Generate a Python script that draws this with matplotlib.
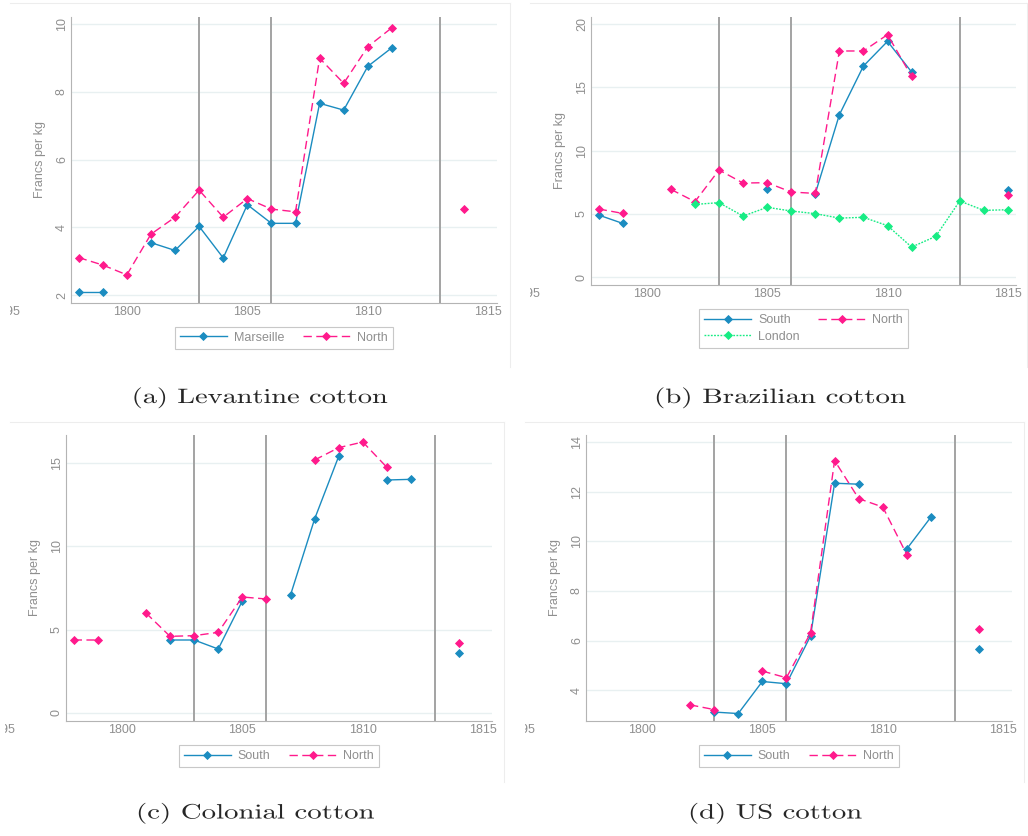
import numpy as np
import matplotlib
matplotlib.use("Agg")
import matplotlib.pyplot as plt
from matplotlib.transforms import Affine2D, Bbox, TransformedBbox, blended_transform_factory
from matplotlib.patheffects import AbstractPathEffect
from matplotlib.lines import Line2D

nan = np.nan

# ---------------- data ----------------
years = list(range(1798, 1816))
war_years = [1803, 1806, 1813]
xtick_years = [1800, 1805, 1810, 1815]

lev_marseille = [2.08, 2.08, nan, 3.55, 3.32, 4.03, 3.10, 4.67, 4.12, 4.12, 7.66, 7.46, 8.75, 9.30, nan, nan, nan, nan]
lev_north = [3.11, 2.89, 2.60, 3.80, 4.30, 5.10, 4.30, 4.85, 4.54, 4.46, 8.99, 8.25, 9.33, 9.89, nan, nan, 4.54, nan]

bra_south = [4.90, 4.24, nan, nan, nan, nan, nan, 6.93, nan, 6.59, 12.83, 16.68, 18.63, 16.21, nan, nan, nan, 6.88]
bra_north = [5.38, 5.03, nan, 6.93, 5.96, 8.46, 7.43, 7.46, 6.72, 6.61, 17.87, 17.87, 19.16, 15.86, nan, nan, nan, 6.46]
bra_london = [nan, nan, nan, nan, 5.74, 5.88, 4.82, 5.51, 5.22, 5.01, 4.66, 4.72, 4.06, 2.37, 3.21, 6.01, 5.27, 5.32]

col_south = [nan, nan, nan, nan, 4.38, 4.38, 3.84, 6.72, nan, 7.08, 11.64, 15.40, nan, 13.98, 14.02, nan, 3.60, nan]
col_north = [4.38, 4.38, nan, 6.00, 4.60, 4.64, 4.84, 6.96, 6.84, nan, 15.18, 15.92, 16.26, 14.74, nan, nan, 4.20, nan]

us_south = [nan, nan, nan, nan, nan, 3.13, 3.07, 4.36, 4.27, 6.19, 12.34, 12.30, nan, 9.70, 10.98, nan, 5.66, nan]
us_north = [nan, nan, nan, nan, 3.42, 3.23, nan, 4.78, 4.51, 6.31, 13.25, 11.72, 11.38, 9.46, nan, nan, 6.47, nan]

lev_yticks = [2, 4, 6, 8, 10]
bra_yticks = [0, 5, 10, 15, 20]
col_yticks = [0, 5, 10, 15]
us_yticks = [4, 6, 8, 10, 12, 14]

captions = ["(a) Levantine cotton", "(b) Brazilian cotton", "(c) Colonial cotton", "(d) US cotton"]

# ---------------- style ----------------
W, H = 1028, 836
BLUE = "#1b8cc0"
PINK = "#ff1a8c"
GREEN = "#17ec84"
GRAY_TXT = "#8f8f8f"
SANS = "Liberation Sans"

fig = plt.figure(figsize=(W / 100, H / 100), dpi=100)
fig.patch.set_facecolor("white")


def px_rect(l, t, r, b):
    return [l / W, 1 - b / H, (r - l) / W, (b - t) / H]


class HStretch(AbstractPathEffect):
    def __init__(self, sx):
        super().__init__()
        self.sx = sx

    def draw_path(self, renderer, gc, tpath, affine, rgbFace=None):
        renderer.draw_path(gc, tpath, Affine2D().scale(self.sx, 1.0) + affine, rgbFace)


def series(ax, vals, color, style, label):
    kw = dict(color=color, lw=1.0, marker="D", ms=4.0, mew=0.6, mec=color, mfc=color, label=label)
    if style == "solid":
        ln, = ax.plot(years, vals, ls="-", **kw)
    elif style == "dash":
        ln, = ax.plot(years, vals, ls=(0, (6.0, 3.2)), **kw)
    else:
        ln, = ax.plot(years, vals, ls=(0, (1.3, 1.0)), **kw)
    return ln


def panel(rect, ylim, yticks, data, clip_left, legend_top_px, ncol_order):
    l, t, r, b = rect
    ax = fig.add_axes(px_rect(l, t, r, b))
    ax.set_xlim(1797.67, 1815.35)
    ax.set_ylim(*ylim)
    for s in ["top", "right"]:
        ax.spines[s].set_visible(False)
    for s in ["left", "bottom"]:
        ax.spines[s].set_color("#b4b4b4")
        ax.spines[s].set_linewidth(0.8)
    ax.set_xticks(xtick_years)
    ax.set_xticklabels([str(v) for v in xtick_years])
    ax.set_yticks(yticks)
    ax.set_yticklabels([str(v) for v in yticks])
    ax.tick_params(axis="both", length=0, colors=GRAY_TXT, labelsize=9)
    ax.tick_params(axis="x", pad=2.3)
    ax.tick_params(axis="y", pad=2.0, labelrotation=90)
    for lab in ax.get_yticklabels():
        lab.set_va("center")
        lab.set_ha("right")
    for lab in ax.get_xticklabels() + ax.get_yticklabels():
        lab.set_fontfamily(SANS)
    ax.yaxis.grid(True, color="#e8f0f1", lw=1.0)
    ax.set_axisbelow(True)
    for wy in war_years:
        ax.axvline(wy, color="#a3a3a3", lw=1.4, zorder=1.5)
    handles = []
    for vals, color, style, label in data:
        handles.append(series(ax, vals, color, style, label))
    ax.set_ylabel("Francs per kg", fontsize=9, color=GRAY_TXT, fontfamily=SANS)
    ax.yaxis.set_label_coords(-25.0 / (r - l), 0.5)
    # 1795 label, cut off by the edge of the sub-image as in the source
    an = ax.annotate("1795", xy=(1795, 0), xycoords=blended_transform_factory(ax.transData, ax.transAxes),
                     xytext=(0, -2.3), textcoords="offset points", ha="center", va="top",
                     fontsize=9, color=GRAY_TXT, fontfamily=SANS, annotation_clip=False)
    an.set_clip_box(TransformedBbox(Bbox.from_extents(clip_left / W, 0, 1, 1), fig.transFigure))
    an.set_clip_on(True)
    hs = [handles[i] for i in ncol_order]
    leg = ax.legend(handles=hs, loc="upper center",
                    bbox_to_anchor=(0.5, -(legend_top_px - b) / (b - t)), ncol=2,
                    frameon=True, fancybox=False, edgecolor="#c8c8c8", framealpha=1,
                    borderaxespad=0, handlelength=3.8, handletextpad=0.55, columnspacing=1.45,
                    borderpad=0.4, labelspacing=0.35, numpoints=1,
                    prop={"family": SANS, "size": 9})
    leg.get_frame().set_linewidth(0.8)
    for txt in leg.get_texts():
        txt.set_color(GRAY_TXT)
    return ax


panel((70.7, 16.7, 496.7, 303.0), (1.77, 10.215), lev_yticks,
      [(lev_marseille, BLUE, "solid", "Marseille"), (lev_north, PINK, "dash", "North")],
      clip_left=9.5, legend_top_px=326.7, ncol_order=[0, 1])
panel((590.7, 16.7, 1016.3, 285.0), (-0.63, 20.58), bra_yticks,
      [(bra_south, BLUE, "solid", "South"), (bra_north, PINK, "dash", "North"),
       (bra_london, GREEN, "dot", "London")],
      clip_left=530, legend_top_px=309.3, ncol_order=[0, 2, 1])
panel((65.7, 435.0, 491.7, 721.0), (-0.48, 16.68), col_yticks,
      [(col_south, BLUE, "solid", "South"), (col_north, PINK, "dash", "North")],
      clip_left=4.5, legend_top_px=745.0, ncol_order=[0, 1])
panel((585.7, 435.0, 1011.7, 721.0), (2.77, 14.28), us_yticks,
      [(us_south, BLUE, "solid", "South"), (us_north, PINK, "dash", "North")],
      clip_left=525, legend_top_px=745.0, ncol_order=[0, 1])

# faint borders of the four sub-images
border = "#ededed"
for (x0, y0, x1, y1) in [(10, 3, 510, 367), (530, 3, 1027, 367), (10, 421.7, 504, 782), (525, 421.7, 1024, 782)]:
    fig.add_artist(Line2D([x0 / W, x1 / W], [1 - y0 / H, 1 - y0 / H], transform=fig.transFigure, color=border, lw=0.8))
    fig.add_artist(Line2D([x1 / W, x1 / W], [1 - y0 / H, 1 - y1 / H], transform=fig.transFigure, color=border, lw=0.8))

# captions (LaTeX-like serif, horizontally stretched as in the source)
cap_pos = [(131.7, 388.0, 403.0), (654.0, 906.0, 403.0), (136.0, 375.0, 818.5), (688.0, 862.0, 818.5)]
renderer = fig.canvas.get_renderer()
for s, (x0, x1, yb) in zip(captions, cap_pos):
    tx = fig.text(x0 / W, 1 - yb / H, s, ha="left", va="baseline", fontfamily="cmr10",
                  fontsize=15, color="#262626")
    w = tx.get_window_extent(renderer).width
    tx.set_path_effects([HStretch((x1 - x0) / w)])

fig.savefig("out.png", dpi=100)
